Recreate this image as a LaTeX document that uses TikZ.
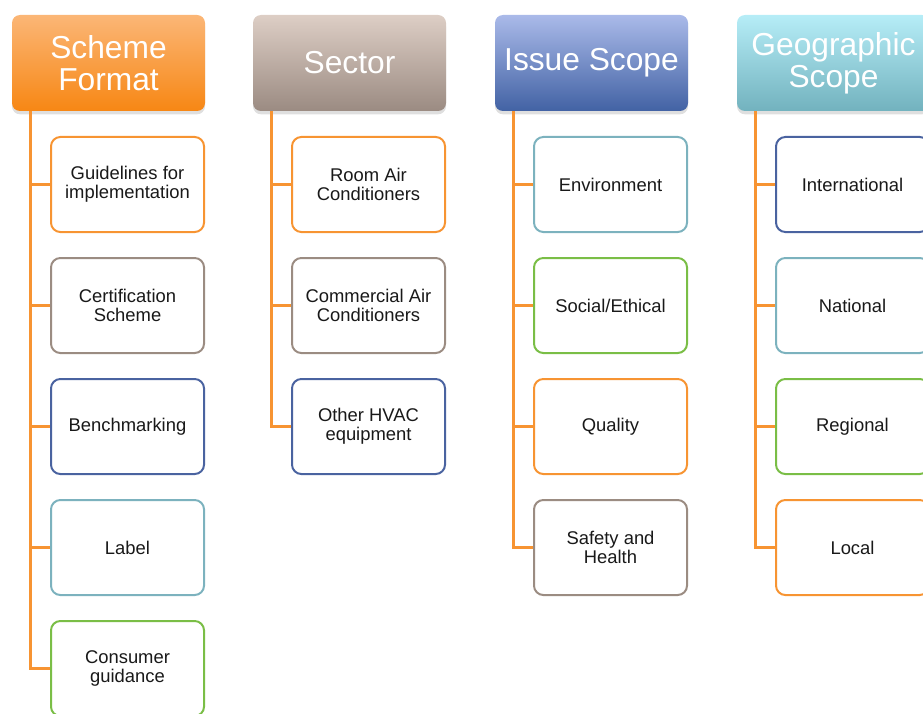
\documentclass[tikz,border=0pt]{standalone}
\usepackage{fontspec}
\setmainfont{Liberation Sans}
\usetikzlibrary{shadows}

\definecolor{cOrange}{RGB}{247,148,50}
\definecolor{cBrown}{RGB}{155,140,130}
\definecolor{cBlue}{RGB}{74,99,160}
\definecolor{cTeal}{RGB}{124,178,190}
\definecolor{cGreen}{RGB}{122,190,70}
\definecolor{hOrTop}{RGB}{251,182,118}
\definecolor{hOrBot}{RGB}{247,135,20}
\definecolor{hBrTop}{RGB}{221,206,197}
\definecolor{hBrBot}{RGB}{155,139,130}
\definecolor{hBlTop}{RGB}{170,186,233}
\definecolor{hBlBot}{RGB}{66,98,164}
\definecolor{hTlTop}{RGB}{182,237,247}
\definecolor{hTlBot}{RGB}{114,178,190}

\tikzset{every picture/.style={line width=0.75pt}}
\tikzset{
  head/.style={rounded corners=6pt, minimum width=144.75pt, minimum height=72pt,
    text=white, align=center, font=\fontsize{23.8}{24}\selectfont,
    drop shadow={opacity=0.25, shadow xshift=0pt, shadow yshift=-2.5pt}},
  item/.style={draw, line width=1.5pt, rounded corners=7pt, fill=white,
    minimum width=114.75pt, minimum height=71.25pt, align=center,
    font=\fontsize{13.8}{14}\selectfont, text=black!90},
  link/.style={draw=cOrange, line width=1.8pt},
}

\begin{document}
\begin{tikzpicture}[x=0.75pt,y=0.75pt,yscale=-1,xscale=1]
  \useasboundingbox (0,0) rectangle (923,713);

  % Headers
  \node[head, top color=hOrTop, bottom color=hOrBot] (sf) at (108.5,63) {Scheme\\Format};
  \node[head, top color=hBrTop, bottom color=hBrBot] (sec) at (349.5,63) {Sector};
  \node[head, top color=hBlTop, bottom color=hBlBot] (iss) at (591.5,63) {Issue Scope};
  \node[head, top color=hTlTop, bottom color=hTlBot] (geo) at (833.5,63) {Geographic\\Scope};

  % Scheme Format
  \node[item, draw=cOrange] (sf1) at (127.5,184.5) {Guidelines for\\implementation};
  \node[item, draw=cBrown] (sf2) at (127.5,305.5) {Certification\\Scheme};
  \node[item, draw=cBlue] (sf3) at (127.5,426.5) {Benchmarking};
  \node[item, draw=cTeal] (sf4) at (127.5,547.5) {Label};
  \node[item, draw=cGreen] (sf5) at (127.5,668.5) {Consumer\\guidance};

  % Sector
  \node[item, draw=cOrange] (sec1) at (368.5,184.5) {Room Air\\Conditioners};
  \node[item, draw=cBrown] (sec2) at (368.5,305.5) {Commercial Air\\Conditioners};
  \node[item, draw=cBlue] (sec3) at (368.5,426.5) {Other HVAC\\equipment};

  % Issue Scope
  \node[item, draw=cTeal] (iss1) at (610.5,184.5) {Environment};
  \node[item, draw=cGreen] (iss2) at (610.5,305.5) {Social/Ethical};
  \node[item, draw=cOrange] (iss3) at (610.5,426.5) {Quality};
  \node[item, draw=cBrown] (iss4) at (610.5,547.5) {Safety and\\Health};

  % Geographic Scope
  \node[item, draw=cBlue] (geo1) at (852.5,184.5) {International};
  \node[item, draw=cTeal] (geo2) at (852.5,305.5) {National};
  \node[item, draw=cGreen] (geo3) at (852.5,426.5) {Regional};
  \node[item, draw=cOrange] (geo4) at (852.5,547.5) {Local};

  % Connectors
  \draw[link] (sf.south west) ++(19,0) |- (sf1.west);
  \draw[link] (sf.south west) ++(19,0) |- (sf2.west);
  \draw[link] (sf.south west) ++(19,0) |- (sf3.west);
  \draw[link] (sf.south west) ++(19,0) |- (sf4.west);
  \draw[link] (sf.south west) ++(19,0) |- (sf5.west);
  \draw[link] (sec.south west) ++(19,0) |- (sec1.west);
  \draw[link] (sec.south west) ++(19,0) |- (sec2.west);
  \draw[link] (sec.south west) ++(19,0) |- (sec3.west);
  \draw[link] (iss.south west) ++(19,0) |- (iss1.west);
  \draw[link] (iss.south west) ++(19,0) |- (iss2.west);
  \draw[link] (iss.south west) ++(19,0) |- (iss3.west);
  \draw[link] (iss.south west) ++(19,0) |- (iss4.west);
  \draw[link] (geo.south west) ++(19,0) |- (geo1.west);
  \draw[link] (geo.south west) ++(19,0) |- (geo2.west);
  \draw[link] (geo.south west) ++(19,0) |- (geo3.west);
  \draw[link] (geo.south west) ++(19,0) |- (geo4.west);
\end{tikzpicture}
\end{document}
